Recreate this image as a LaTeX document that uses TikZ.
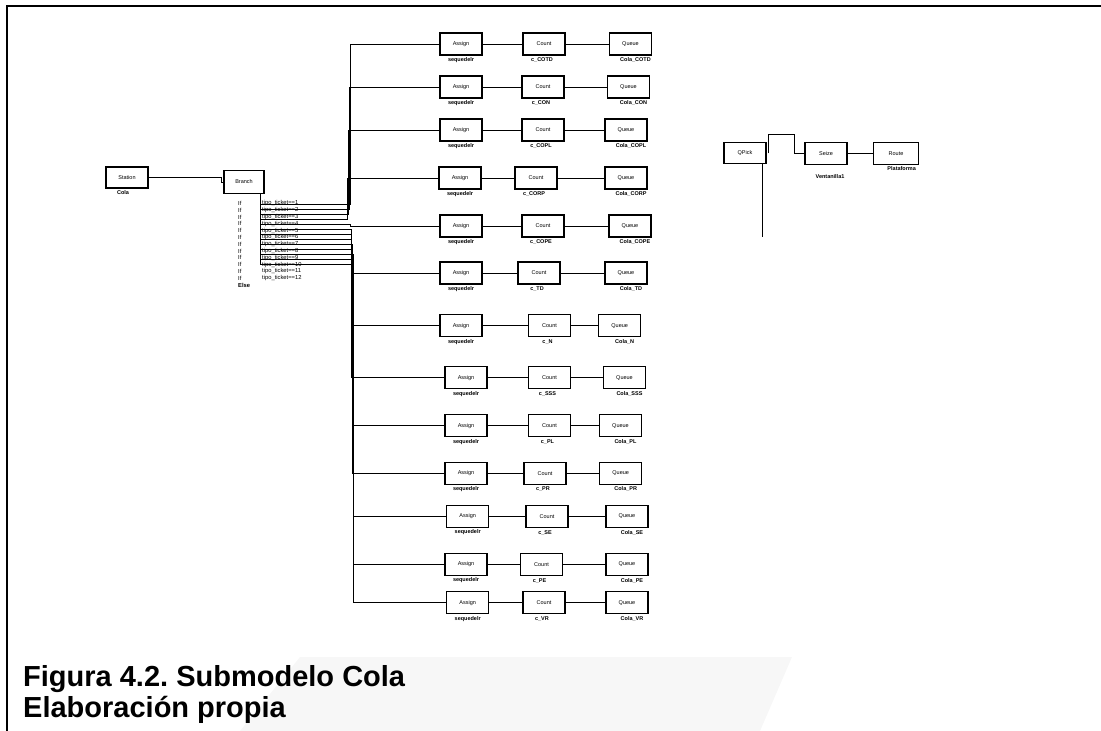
\documentclass[tikz,border=0pt]{standalone}
\usepackage{fontspec}
\setmainfont{Liberation Sans}
\frenchspacing
\begin{document}
\tikzset{
  blk/.style={draw, line width=1.1pt, minimum width=42pt, minimum height=22pt, inner sep=0pt, font=\fontsize{5.5}{6}\selectfont},
  lbl/.style={font=\fontsize{5.5}{6}\selectfont\bfseries, inner sep=0pt},
  blbl/.style={font=\fontsize{5.8}{6}\selectfont, inner sep=0pt, anchor=west},
  conn/.style={line width=0.8pt},
  captxt/.style={font=\fontsize{29}{33}\selectfont\bfseries, inner sep=0pt, anchor=base west}
}
\begin{tikzpicture}[x=1pt,y=-1pt]
\useasboundingbox (0,0) rectangle (1101,731);
% faint watermark band
\fill[black!3] (240,731) -- (300,657) -- (792,657) -- (760,731) -- cycle;
% frame
\draw[line width=2pt] (1101,6) -- (7,6) -- (7,731);

% Station and Branch
\node[blk, minimum height=21pt] (st) at (127,177.5) {Station};
\node[lbl] (stl) at (123,193) {Cola};
\node[blk, minimum width=40pt, minimum height=22.6pt] (br) at (244,182) {Branch};
\draw[conn] (st.east) -| ([xshift=-2.3pt]br.west) -- (br.west);

% branch conditions
\foreach \k in {1,...,12}{
  \node[blbl] (if\k) at (238,{203.3+6.8*(\k-1)}) {If};
  \node[blbl] (tt\k) at (262,{203.3+6.8*(\k-1)}) {tipo\_ticket==\k};
}
\node[blbl, font=\fontsize{5.8}{6}\selectfont\bfseries] (else) at (238,285) {Else};
\coordinate (bx) at ([xshift=-4pt]br.south east);
\draw[conn] (bx) -- (bx |- 0,264);

% rows
\foreach \i/\yy/\ax/\cx/\qx/\nm in {
  1/44/461/544/630.5/COTD, 2/87/461/543/628.5/CON, 3/130/461/543/626/COPL,
  4/178/460/536/626/CORP, 5/226/461/543/630/COPE, 6/273/461/539/626/TD,
  7/325.7/461/549.5/619.7/N, 8/377.7/466/549.5/624.5/SSS, 9/425.7/466/549.5/620.5/PL,
  10/473.3/466/545/620.7/PR, 11/516.5/467.7/547/627/SE, 12/564.5/466/541.5/627/PE,
  13/602.8/467.7/544/627/VR}{
  \node[blk] (a\i) at (\ax,\yy) {Assign};
  \node[blk] (c\i) at (\cx,\yy) {Count};
  \node[blk] (q\i) at (\qx,\yy) {Queue};
  \node[lbl] (la\i) at (\ax,\yy+16) {sequedelr};
  \node[lbl] (lc\i) at (\cx-2,\yy+16) {c\_\nm};
  \node[lbl] (lq\i) at (\qx+5,\yy+16) {Cola\_\nm};
  \draw[conn] (a\i) -- (c\i);
  \draw[conn] (c\i) -- (q\i);
}

% exits to rows
\foreach \i/\bxx in {1/350.5,2/349.5,3/348.5,4/347.5}{
  \draw[conn] (260,{204+5*(\i-1)}) -- (\bxx,{204+5*(\i-1)}) |- (a\i.west);
}
\draw[conn] (260,224) -- (350,224) |- (a5.west);
\foreach \i in {6,...,13}{
  \draw[conn] (260,{204+5*(\i-1)}) -- ({351+0.4*(\i-6)},{204+5*(\i-1)}) |- (a\i.west);
}

% QPick group
\node[blk, minimum height=21pt] (qp) at (745,153) {QPick};
\node[blk] (sz) at (826,153.5) {Seize};
\node[blk, minimum width=45pt] (rt) at (896,153.5) {Route};
\node[lbl] (szl) at (830,176.7) {Ventanilla1};
\node[lbl] (rtl) at (901.7,169) {Plataforma};
\draw[conn] ([xshift=2.3pt,yshift=-0.3pt]qp.east) |- (794,134) |- (sz.west);
\draw[conn] (sz) -- (rt);
\draw[conn] ([xshift=-4.3pt]qp.south east) -- ++(0,73);

% caption
\node[captxt] (cap1) at (23,686) {Figura 4.2. Submodelo Cola};
\node[captxt] (cap2) at (23,717) {Elaboración propia};
\end{tikzpicture}
\end{document}
